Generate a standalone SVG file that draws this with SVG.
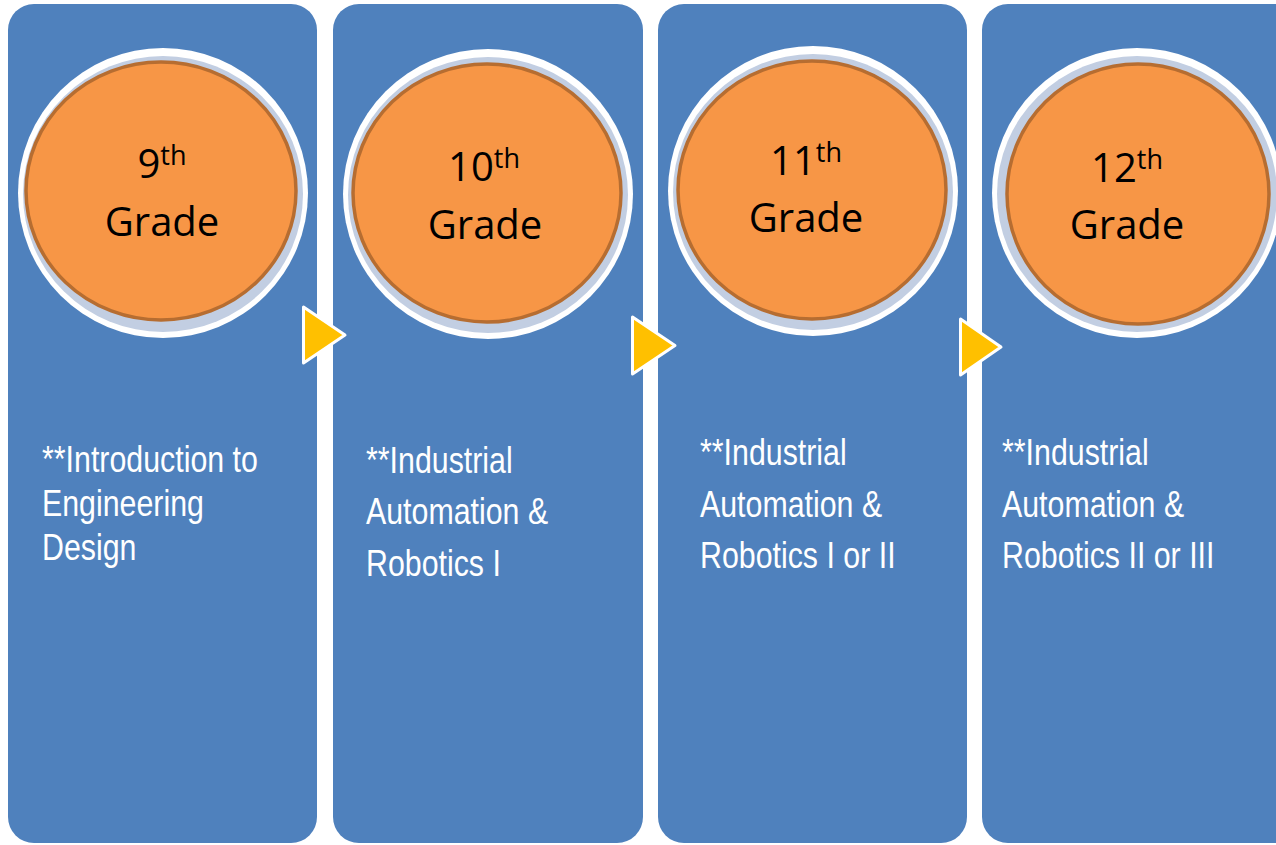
<svg xmlns="http://www.w3.org/2000/svg" width="1276" height="845" viewBox="0 0 1276 845">
<style>
.panel{fill:#4f81bd;}
.ringw{fill:#ffffff;}
.ringg{fill:#c2cee2;}
.orb{fill:#f79646;stroke:#b66d31;stroke-width:3.5;}
.head{font-family:"Open Sans","Noto Sans",sans-serif;font-size:40px;fill:#000000;text-anchor:middle;}
.sup{font-size:27px;}
.body{font-family:"Liberation Sans",Arial,sans-serif;font-size:37px;fill:#ffffff;}
.arrow{fill:#ffc000;stroke:#ffffff;stroke-width:3;stroke-linejoin:round;}
</style>
<rect width="1276" height="845" fill="#ffffff"/>

<g id="grade9">
<rect class="panel" x="8" y="4" width="309" height="839" rx="26"/>
<circle class="ringw" cx="163" cy="193" r="145"/>
<ellipse class="ringg" cx="163" cy="194" rx="140" ry="138"/>
<ellipse class="orb" cx="161" cy="191" rx="135" ry="129"/>
<text class="head" x="162" y="178">9<tspan class="sup" dy="-13">th</tspan></text>
<text class="head" x="162" y="236">Grade</text>
<g transform="translate(42,0) scale(0.82,1)">
<text class="body" x="0" y="472">**Introduction to</text>
<text class="body" x="0" y="516">Engineering</text>
<text class="body" x="0" y="560">Design</text>
</g>
</g>

<g id="grade10">
<rect class="panel" x="333" y="4" width="310" height="839" rx="26"/>
<circle class="ringw" cx="488" cy="194" r="145"/>
<ellipse class="ringg" cx="488" cy="195" rx="140" ry="138"/>
<ellipse class="orb" cx="487" cy="193" rx="134" ry="129"/>
<text class="head" x="484" y="181">10<tspan class="sup" dy="-13">th</tspan></text>
<text class="head" x="485" y="239">Grade</text>
<g transform="translate(366,0) scale(0.82,1)">
<text class="body" x="0" y="473">**Industrial</text>
<text class="body" x="0" y="524">Automation &amp;</text>
<text class="body" x="0" y="576">Robotics I</text>
</g>
</g>

<g id="grade11">
<rect class="panel" x="658" y="4" width="309" height="839" rx="26"/>
<circle class="ringw" cx="813" cy="191" r="145"/>
<ellipse class="ringg" cx="813" cy="192" rx="140" ry="138"/>
<ellipse class="orb" cx="812" cy="190" rx="134" ry="129"/>
<text class="head" x="806" y="175">11<tspan class="sup" dy="-13">th</tspan></text>
<text class="head" x="806" y="232">Grade</text>
<g transform="translate(700,0) scale(0.82,1)">
<text class="body" x="0" y="465">**Industrial</text>
<text class="body" x="0" y="517">Automation &amp;</text>
<text class="body" x="0" y="568">Robotics I or II</text>
</g>
</g>

<g id="grade12">
<rect class="panel" x="982" y="4" width="320" height="839" rx="26"/>
<circle class="ringw" cx="1137" cy="193" r="145"/>
<ellipse class="ringg" cx="1137" cy="194" rx="140" ry="138"/>
<ellipse class="orb" cx="1138" cy="194" rx="131" ry="130"/>
<text class="head" x="1127" y="182">12<tspan class="sup" dy="-13">th</tspan></text>
<text class="head" x="1127" y="239">Grade</text>
<g transform="translate(1002,0) scale(0.82,1)">
<text class="body" x="0" y="465">**Industrial</text>
<text class="body" x="0" y="517">Automation &amp;</text>
<text class="body" x="0" y="568">Robotics II or III</text>
</g>
</g>

<g id="connectors">
<polygon class="arrow" points="303.5,307 303.5,363 345,335"/>
<polygon class="arrow" points="632.5,317 632.5,374 675,345.5"/>
<polygon class="arrow" points="960.5,319 960.5,375 1001,347"/>
</g>
</svg>
